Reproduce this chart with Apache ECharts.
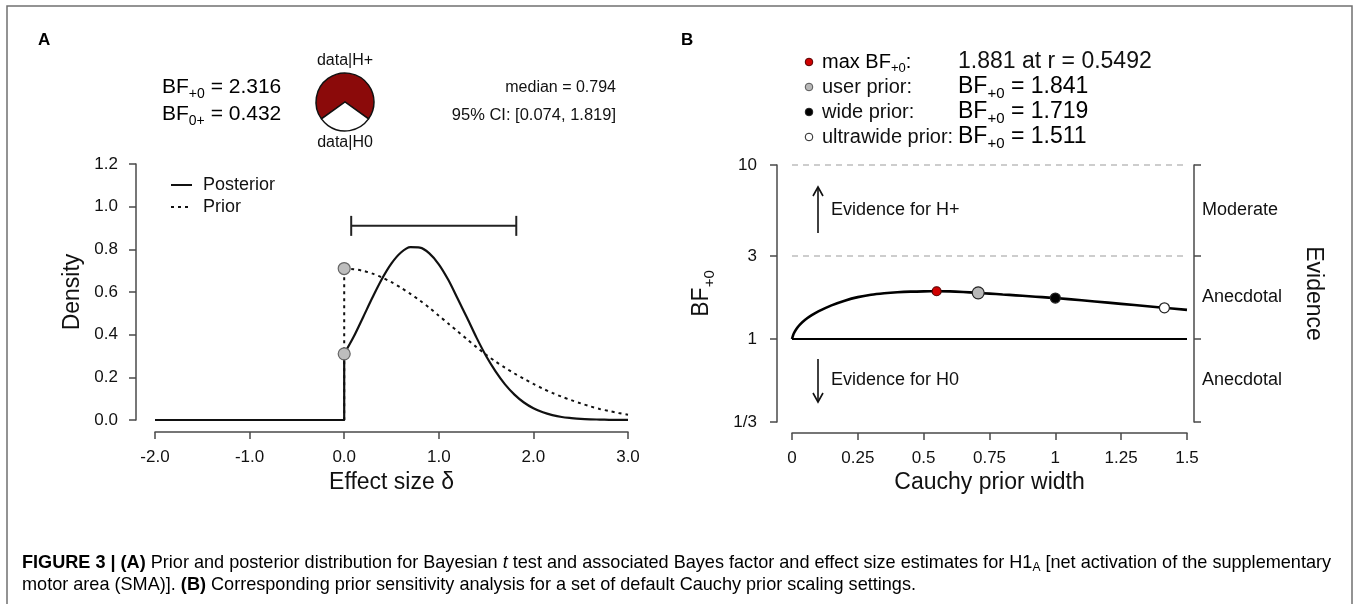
<!DOCTYPE html>
<html><head><meta charset="utf-8">
<script src="https://cdn.jsdelivr.net/npm/echarts@6/dist/echarts.min.js"></script>
<style>html,body{margin:0;padding:0;background:#fff}#c{width:1357px;height:604px}</style>
</head><body><div id="c"></div>
<script>
// ---------- Panel A data ----------
const effectSize = [0.0,0.1,0.2,0.3,0.4,0.5,0.6,0.7,0.8,0.9,1.0,1.1,1.2,1.3,1.4,1.5,1.6,1.7,1.8,1.9,2.0,2.1,2.2,2.3,2.4,2.5,2.6,2.7,2.8,2.9,3.0];
const posteriorDensity = [0.31,0.39,0.482,0.575,0.662,0.734,0.785,0.810,0.808,0.781,0.730,0.657,0.568,0.478,0.385,0.300,0.228,0.167,0.119,0.082,0.055,0.036,0.023,0.014,0.009,0.005,0.003,0.002,0.001,0.0005,0.0003];
const priorDensity = [0.710,0.707,0.699,0.686,0.668,0.646,0.620,0.591,0.560,0.526,0.489,0.452,0.415,0.378,0.341,0.306,0.274,0.245,0.218,0.193,0.169,0.147,0.127,0.109,0.093,0.078,0.064,0.052,0.042,0.033,0.025];
const effectTicks = [-2, -1, 0, 1, 2, 3];
const densityTicks = [0, 0.2, 0.4, 0.6, 0.8, 1.0, 1.2];
const ciBounds = [0.074, 1.819];
const ciLevel = 0.91;
const bfPlus0 = 2.316;
const bf0Plus = 0.432;
const posteriorMedian = 0.794;

// ---------- Panel B data ----------
const cauchyWidth = [0,0.005,0.01,0.02,0.03,0.05,0.075,0.1,0.15,0.2,0.25,0.3,0.35,0.4,0.45,0.5,0.55,0.6,0.65,0.7,0.75,0.8,0.85,0.9,0.95,1.0,1.1,1.2,1.3,1.4,1.5];
const bfRobustness = [1.0,1.06,1.10,1.16,1.21,1.29,1.37,1.44,1.56,1.66,1.74,1.795,1.83,1.855,1.871,1.879,1.881,1.877,1.863,1.844,1.823,1.802,1.782,1.761,1.740,1.719,1.669,1.618,1.567,1.517,1.470];
const markerWidths = [0.5492, 0.7071, 1, 1.4142];
const markerBFs = [1.881, 1.841, 1.719, 1.511];
const markerNames = ['max BF', 'user prior:', 'wide prior:', 'ultrawide prior:'];
const markerFill = ['#d00000', '#b8b8b8', '#000000', '#ffffff'];
const markerSize = [9, 12, 10, 10];
const bfTicks = [1/3, 1, 3, 10];
const bfTickLabels = ['1/3', '1', '3', '10'];
const evidenceLabels = ['Anecdotal', 'Anecdotal', 'Moderate'];
const widthTicks = [0, 0.25, 0.5, 0.75, 1, 1.25, 1.5];

const FF = '"Liberation Sans", Arial, Helvetica, sans-serif';
const TXT = '#111';
const AX = '#4a4a4a';

function rt(size, extra) { return Object.assign({fontSize: size, fontFamily: FF, color: TXT}, extra || {}); }

const evidenceMid = [];
for (let i = 0; i < bfTicks.length - 1; i++) evidenceMid.push(Math.sqrt(bfTicks[i] * bfTicks[i + 1]));

function nearestLabel(v, vals, labels) {
  let best = 0, bd = Infinity;
  vals.forEach((t, i) => { const d = Math.abs(Math.log(v) - Math.log(t)); if (d < bd) { bd = d; best = i; } });
  return bd < 1e-3 ? labels[best] : '';
}

const chart = echarts.init(document.getElementById('c'), null, {renderer: 'canvas'});

const axisCommon = {
  axisLine: {show: true, onZero: false, lineStyle: {color: AX, width: 1.5}},
  axisTick: {show: true, inside: false, length: 7, lineStyle: {color: AX, width: 1.5}},
  splitLine: {show: false},
};

const subRich = {
  a: rt(21, {lineHeight: 28}),
  s: rt(14, {lineHeight: 14, verticalAlign: 'bottom'})
};
const legRich = {a: rt(23, {lineHeight: 28}), s: rt(15, {lineHeight: 15, verticalAlign: 'bottom'})};
const LEG_Y = 62, LEG_DY = 25;

const capRich = {
  b: {fontSize: 18.1, fontWeight: 'bold', fontFamily: FF, color: '#111', lineHeight: 22},
  n: {fontSize: 18.1, fontFamily: FF, color: '#333', lineHeight: 22},
  i: {fontSize: 18.1, fontFamily: FF, fontStyle: 'italic', color: '#333', lineHeight: 22},
  s: {fontSize: 12, fontFamily: FF, color: '#333', lineHeight: 12, verticalAlign: 'bottom'}
};

const option = {
  animation: false,
  backgroundColor: '#fff',
  grid: [
    {left: 155, right: 1357 - 628, top: 164, bottom: 604 - 420, outerBoundsMode: 'none'},
    {left: 792, right: 1357 - 1187, top: 165, bottom: 604 - 422, outerBoundsMode: 'none'}
  ],
  xAxis: [
    Object.assign({}, axisCommon, {
      gridIndex: 0, type: 'value', min: -2, max: 3, interval: 1, offset: 12,
      axisLabel: {margin: 17, fontSize: 17, fontFamily: FF, color: TXT, formatter: v => v.toFixed(1)},
      name: 'Effect size \u03b4', nameLocation: 'middle', nameGap: 39,
      nameTextStyle: {fontSize: 23, fontFamily: FF, color: TXT}
    }),
    Object.assign({}, axisCommon, {
      gridIndex: 1, type: 'value', min: 0, max: 1.5, interval: 0.25, offset: 11,
      axisLabel: {margin: 17, fontSize: 17, fontFamily: FF, color: TXT, formatter: v => String(+v.toFixed(2))},
      name: 'Cauchy prior width', nameLocation: 'middle', nameGap: 38,
      nameTextStyle: {fontSize: 23, fontFamily: FF, color: TXT}
    })
  ],
  yAxis: [
    Object.assign({}, axisCommon, {
      gridIndex: 0, type: 'value', min: 0, max: 1.2, interval: 0.2, offset: 19,
      axisLabel: {margin: 18, fontSize: 17, fontFamily: FF, color: TXT, formatter: v => v.toFixed(1)},
      name: 'Density', nameLocation: 'middle', nameGap: 52, nameRotate: 90,
      nameTextStyle: {fontSize: 23, fontFamily: FF, color: TXT}
    }),
    Object.assign({}, axisCommon, {
      gridIndex: 1, type: 'log', logBase: 10, min: bfTicks[0], max: bfTicks[bfTicks.length - 1], offset: 15,
      axisTick: {show: true, length: 7, customValues: bfTicks, lineStyle: {color: AX, width: 1.5}},
      axisLabel: {margin: 20, fontSize: 17, fontFamily: FF, color: TXT, customValues: bfTicks,
        formatter: v => nearestLabel(v, bfTicks, bfTickLabels)},
      name: '{a|BF}{s|+0}', nameLocation: 'middle', nameGap: 60, nameRotate: 90,
      nameTextStyle: {rich: {a: rt(23, {lineHeight: 30}), s: rt(15, {lineHeight: 15, verticalAlign: 'bottom'})}}
    }),
    Object.assign({}, axisCommon, {
      gridIndex: 1, type: 'log', logBase: 10, min: bfTicks[0], max: bfTicks[bfTicks.length - 1], offset: 7,
      position: 'right',
      axisTick: {show: true, length: 7, customValues: bfTicks, lineStyle: {color: AX, width: 1.5}},
      axisLabel: {margin: 8, fontSize: 18, fontFamily: FF, color: TXT, customValues: evidenceMid,
        formatter: v => nearestLabel(v, evidenceMid, evidenceLabels)},
      name: 'Evidence', nameLocation: 'middle', nameGap: 108, nameRotate: -90,
      nameTextStyle: {fontSize: 23, fontFamily: FF, color: TXT}
    })
  ],
  series: [
    // Panel A: prior (dotted)
    {type: 'line', xAxisIndex: 0, yAxisIndex: 0, symbol: 'none', silent: true, z: 2,
      data: [[effectTicks[0], 0], [0, 0], [0, priorDensity[0]]],
      lineStyle: {color: '#111', width: 2, type: [3, 4]}},
    {type: 'line', xAxisIndex: 0, yAxisIndex: 0, symbol: 'none', silent: true, smooth: 0.3, z: 2,
      data: effectSize.map((x, i) => [x, priorDensity[i]]),
      lineStyle: {color: '#111', width: 2, type: [3, 4]}},
    // Panel A: posterior (solid)
    {type: 'line', xAxisIndex: 0, yAxisIndex: 0, symbol: 'none', silent: true, z: 3,
      data: [[effectTicks[0], 0], [0, 0], [0, posteriorDensity[0]]],
      lineStyle: {color: '#111', width: 2.2}},
    {type: 'line', xAxisIndex: 0, yAxisIndex: 0, symbol: 'none', silent: true, smooth: 0.3, z: 3,
      data: effectSize.map((x, i) => [x, posteriorDensity[i]]),
      lineStyle: {color: '#111', width: 2.2}},
    // points at delta = 0
    {type: 'scatter', xAxisIndex: 0, yAxisIndex: 0, silent: true, z: 5, symbolSize: 12,
      data: [[0, priorDensity[0]], [0, posteriorDensity[0]]],
      itemStyle: {color: '#bdbdbd', borderColor: '#666', borderWidth: 1.2, opacity: 1}},
    // credible interval
    {type: 'custom', xAxisIndex: 0, yAxisIndex: 0, silent: true, z: 4,
      data: [[ciBounds[0], ciBounds[1], ciLevel]],
      encode: {x: [0, 1], y: 2},
      renderItem: function (params, api) {
        const a = api.coord([api.value(0), api.value(2)]);
        const b = api.coord([api.value(1), api.value(2)]);
        const h = 10, st = {stroke: '#222', lineWidth: 2};
        return {type: 'group', children: [
          {type: 'line', shape: {x1: a[0], y1: a[1], x2: b[0], y2: b[1]}, style: st},
          {type: 'line', shape: {x1: a[0], y1: a[1] - h, x2: a[0], y2: a[1] + h}, style: st},
          {type: 'line', shape: {x1: b[0], y1: b[1] - h, x2: b[0], y2: b[1] + h}, style: st}
        ]};
      }},
    // pizza plot
    {type: 'pie', center: [345, 102], radius: 29, silent: true, clockwise: true,
      startAngle: 90 + 180 * bfPlus0 / (bfPlus0 + 1),
      label: {show: false}, labelLine: {show: false},
      itemStyle: {borderColor: '#111', borderWidth: 1.5},
      emphasis: {disabled: true},
      data: [{value: bfPlus0, name: 'data|H+', itemStyle: {color: '#8b0a0a'}},
             {value: 1, name: 'data|H0', itemStyle: {color: '#ffffff'}}]},
    // Panel B: robustness curve
    {type: 'line', xAxisIndex: 1, yAxisIndex: 1, symbol: 'none', silent: true, smooth: 0.3, z: 3,
      data: cauchyWidth.map((x, i) => [x, bfRobustness[i]]),
      lineStyle: {color: '#000', width: 2.6},
      markLine: {silent: true, symbol: ['none', 'none'], label: {show: false},
        data: [
          {yAxis: bfTicks[3], lineStyle: {color: '#bdbdbd', width: 1.5, type: [6, 5]}},
          {yAxis: bfTicks[2], lineStyle: {color: '#bdbdbd', width: 1.5, type: [6, 5]}},
          {yAxis: bfTicks[0], lineStyle: {color: '#bdbdbd', width: 1.5, type: [6, 5]}},
          {yAxis: bfTicks[1], lineStyle: {color: '#000', width: 2, type: 'solid'}}
        ]}},
    {type: 'scatter', xAxisIndex: 1, yAxisIndex: 1, silent: true, z: 6,
      data: markerWidths.map((x, i) => ({value: [x, markerBFs[i]], symbolSize: markerSize[i],
        itemStyle: {color: markerFill[i], borderColor: i === 0 ? '#500' : '#222', borderWidth: 1.2, opacity: 1}}))}
  ],
  graphic: [
    // frame
    {type: 'rect', shape: {x: 7, y: 6, width: 1345, height: 640}, style: {fill: 'none', stroke: '#707070', lineWidth: 1.5}, silent: true},
    // panel letters
    {type: 'text', x: 38, y: 40, style: {text: 'A', font: 'bold 17px ' + FF, fill: '#000', verticalAlign: 'middle'}},
    {type: 'text', x: 681, y: 40, style: {text: 'B', font: 'bold 17px ' + FF, fill: '#000', verticalAlign: 'middle'}},
    // Bayes factors
    {type: 'text', x: 162, y: 87, style: {text: '{a|BF}{s|+0}{a| = ' + bfPlus0.toFixed(3) + '}', rich: subRich, verticalAlign: 'middle'}},
    {type: 'text', x: 162, y: 114, style: {text: '{a|BF}{s|0+}{a| = ' + bf0Plus.toFixed(3) + '}', rich: subRich, verticalAlign: 'middle'}},
    // pie labels
    {type: 'text', x: 345, y: 61, style: {text: 'data|H+', font: '16px ' + FF, fill: TXT, align: 'center', verticalAlign: 'middle'}},
    {type: 'text', x: 345, y: 143, style: {text: 'data|H0', font: '16px ' + FF, fill: TXT, align: 'center', verticalAlign: 'middle'}},
    // median & CI
    {type: 'text', x: 616, y: 88, style: {text: 'median = ' + posteriorMedian.toFixed(3), font: '16px ' + FF, fill: TXT, align: 'right', verticalAlign: 'middle'}},
    {type: 'text', x: 616, y: 115, style: {text: '95% CI: [' + ciBounds[0].toFixed(3) + ', ' + ciBounds[1].toFixed(3) + ']', font: '16.5px ' + FF, fill: TXT, align: 'right', verticalAlign: 'middle'}},
    // legend A
    {type: 'line', shape: {x1: 171, y1: 185, x2: 192, y2: 185}, style: {stroke: '#111', lineWidth: 2}},
    {type: 'line', shape: {x1: 171, y1: 207, x2: 192, y2: 207}, style: {stroke: '#111', lineWidth: 2, lineDash: [3, 4]}},
    {type: 'text', x: 203, y: 185, style: {text: 'Posterior', font: '18px ' + FF, fill: TXT, verticalAlign: 'middle'}},
    {type: 'text', x: 203, y: 207, style: {text: 'Prior', font: '18px ' + FF, fill: TXT, verticalAlign: 'middle'}},
    // legend B
    ...markerNames.map((n, i) => ({type: 'circle', shape: {cx: 809, cy: LEG_Y + i * LEG_DY, r: 3.8},
      style: {fill: markerFill[i], stroke: i === 0 ? '#500' : (i === 1 ? '#555' : '#222'), lineWidth: 1}})),
    {type: 'text', x: 822, y: LEG_Y, style: {text: '{a|max BF}{s|+0}{a|:}', rich: {a: rt(20, {lineHeight: 26}), s: rt(13, {lineHeight: 13, verticalAlign: 'bottom'})}, verticalAlign: 'middle'}},
    ...markerNames.slice(1).map((n, i) => ({type: 'text', x: 822, y: LEG_Y + (i + 1) * LEG_DY,
      style: {text: n, font: '20px ' + FF, fill: TXT, verticalAlign: 'middle'}})),
    {type: 'text', x: 958, y: LEG_Y, style: {text: markerBFs[0].toFixed(3) + ' at r = ' + markerWidths[0].toFixed(4), font: '23px ' + FF, fill: TXT, verticalAlign: 'middle'}},
    ...markerBFs.slice(1).map((v, i) => ({type: 'text', x: 958, y: LEG_Y + (i + 1) * LEG_DY,
      style: {text: '{a|BF}{s|+0}{a| = ' + v.toFixed(3) + '}', rich: legRich, verticalAlign: 'middle'}})),
    // evidence arrows
    {type: 'line', shape: {x1: 818, y1: 233, x2: 818, y2: 188}, style: {stroke: '#111', lineWidth: 1.6}},
    {type: 'polyline', shape: {points: [[813, 196], [818, 187], [823, 196]]}, style: {stroke: '#111', lineWidth: 1.6, fill: 'none'}},
    {type: 'line', shape: {x1: 818, y1: 359, x2: 818, y2: 401}, style: {stroke: '#111', lineWidth: 1.6}},
    {type: 'polyline', shape: {points: [[813, 393], [818, 402], [823, 393]]}, style: {stroke: '#111', lineWidth: 1.6, fill: 'none'}},
    {type: 'text', x: 831, y: 210, style: {text: 'Evidence for H+', font: '18px ' + FF, fill: TXT, verticalAlign: 'middle'}},
    {type: 'text', x: 831, y: 380, style: {text: 'Evidence for H0', font: '18px ' + FF, fill: TXT, verticalAlign: 'middle'}},
    // caption
    {type: 'text', x: 22, y: 563, style: {
      text: '{b|FIGURE 3 | (A)}{n| Prior and posterior distribution for Bayesian }{i|t}{n| test and associated Bayes factor and effect size estimates for H1}{s|A}{n| [net activation of the supplementary}',
      verticalAlign: 'middle', rich: capRich}},
    {type: 'text', x: 22, y: 585, style: {
      text: '{n|motor area (SMA)]. }{b|(B)}{n| Corresponding prior sensitivity analysis for a set of default Cauchy prior scaling settings.}',
      verticalAlign: 'middle', rich: capRich}}
  ]
};
chart.setOption(option);
</script>
</body></html>
